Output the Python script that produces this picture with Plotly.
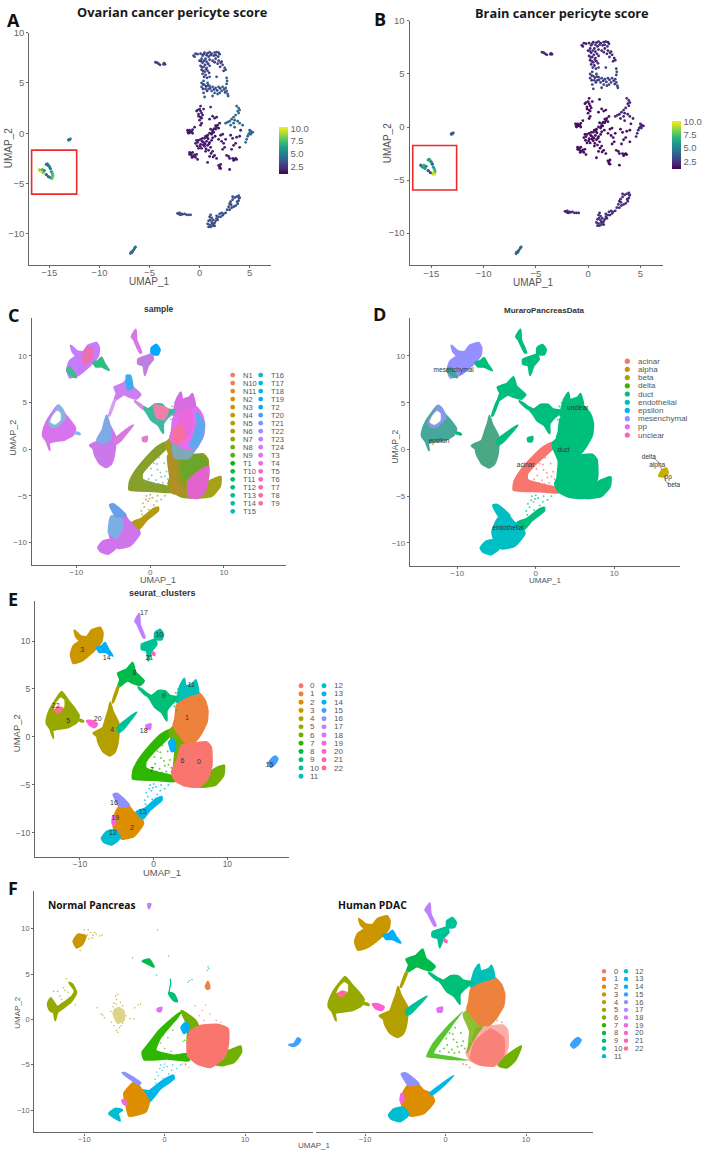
import math
import plotly.graph_objects as go

W, H = 709, 1151

# ---------- pericyte score panels: cell positions ----------
peri_cells = [(-16.0,-3.6),(-15.9,-3.7),(-15.8,-3.8),(-15.7,-3.6),(-15.6,-3.9),(-15.5,-3.7),(-15.3,-3.1),(-15.2,-3.05),
              (-15.1,-3.2),(-15.0,-3.3),(-14.9,-3.5),(-14.8,-3.8),(-14.7,-4.0),(-14.65,-4.2),(-14.7,-4.4),(-14.75,-4.5),
              (-14.9,-4.4),(-15.1,-4.3),(-15.3,-4.1)]
peri_ovarian = [9.5,8,10,7,8,6,4.5,5,4.5,5,4,6,7,7.5,8,8.5,6,4,3.5]
peri_brain = [3.5,5,6,7,6,5,6.5,6,6.5,5,3.5,6,7,7,8.5,10,9,3,2.5]
small_a = [(-13.1,-0.65),(-13.0,-0.6),(-12.9,-0.55),(-13.05,-0.7),(-12.95,-0.62)]
small_b = [(-6.9,-11.95),(-6.8,-11.85),(-6.7,-11.75),(-6.75,-11.85),(-6.65,-11.65),(-6.6,-11.6),(-6.5,-11.45),(-6.45,-11.35),(-6.4,-11.3),(-6.85,-11.8)]
small_c = [(-4.4,7.05),(-4.25,7.0),(-4.1,6.9),(-3.95,6.8),(-3.6,6.85),(-3.5,6.9),(-3.45,6.85),(-3.55,6.95)]
top_block = [(-0.6,7.7),(-0.4,7.9),(-0.5,7.6),(-0.2,7.85),(0.1,7.9),(0.3,7.7),(0.5,8.0),(0.8,7.95),(1.0,8.05),(1.2,7.9),(1.5,8.0),(1.7,8.05),
             (1.9,8.0),(2.0,7.85),(1.4,7.7),(0.9,7.6),(0.6,7.4),(0.2,7.4),(0.0,7.2),(0.3,7.0),(0.7,7.1),(1.0,7.3),(1.3,7.2),(1.6,7.4),(1.9,7.2),
             (2.1,7.0),(1.8,6.9),(2.3,6.8),(2.5,6.5),(2.6,6.3),(0.1,6.7),(0.4,6.6),(0.7,6.5),(1.0,6.7),(0.2,6.3),(0.5,6.1),(0.8,6.2),(0.3,5.9),(0.6,5.8)]
top_more = [(0.4,7.85),(0.7,7.75),(1.1,7.75),(1.6,7.75),(1.85,7.6),(0.15,7.15),(0.45,7.2),(0.85,6.9),(0.55,6.8),(0.25,6.55),(1.5,7.05),(2.05,6.6),(2.4,6.2),(2.2,7.1),
            (0.35,6.2),(0.65,6.35),(0.95,6.0),(0.45,5.6),(0.75,5.5),(0.35,4.85),(0.65,4.65),(0.85,4.75),(0.35,4.4),(0.75,4.2),(1.05,4.45),(1.45,4.35),(1.75,4.25),(2.05,4.45),(2.45,4.35),(2.55,4.05)]
top_lower = [(2.7,5.5),(2.75,5.2),(2.7,4.9),(1.0,5.6),(1.7,5.6),(0.4,5.2),(0.2,5.0),(0.5,4.8),(0.8,5.0),(1.0,4.7),(0.2,4.6),(0.6,4.4),(0.9,4.4),
             (1.3,4.6),(1.6,4.5),(1.9,4.6),(2.3,4.6),(2.6,4.5),(2.7,4.2),(2.8,3.9),(2.85,3.7),(1.2,4.2),(1.5,4.0),(1.8,3.9),(2.0,4.0),(2.2,4.2),(0.4,4.0),(0.5,3.6),(1.3,3.7)]
mid_upper = [(0.1,2.7),(0.0,2.4),(-0.2,2.3),(-0.3,2.2),(0.1,2.2),(0.2,2.0),(-0.1,1.9),(-0.1,1.7),(0.1,1.6),(0.2,1.5),(0.3,1.8),(0.4,2.4),(0.0,1.3),
             (0.2,1.0),(0.1,0.8),(1.1,2.6),(1.3,1.7),(1.0,1.4),(1.5,1.5),(1.7,1.6),(2.0,1.0)]
mid_right = [(3.7,2.7),(3.9,2.5),(4.0,2.3),(3.8,2.2),(3.9,2.0),(3.6,1.8),(3.4,1.6),(3.2,1.4),(3.0,1.2),(2.8,1.1),(3.5,1.3),(3.8,1.2),(4.0,1.0),(4.3,0.8),
             (3.4,1.0),(2.6,1.0),(3.1,0.8),(3.5,0.6),(5.0,0.3),(5.1,0.2),(5.2,0.1),(5.3,0.1),(5.0,0.0),(4.9,-0.1),(5.1,-0.1),(4.8,-0.3),(4.7,-0.6),(4.6,-0.9)]
low_dark = [(-1.2,0.3),(-1.1,0.2),(-1.0,0.3),(-0.9,0.1),(-1.1,0.0),(-0.8,0.2),(-0.7,0.35),(-0.7,0.0),(-0.5,0.6),(1.8,0.8),(1.7,0.6),(1.9,0.5),(1.6,0.4),
            (1.3,0.3),(1.1,0.4),(1.4,0.1),(1.2,-0.1),(1.0,0.0),(0.8,-0.2),(0.6,-0.3),(0.5,-0.5),(0.3,-0.5),(0.1,-0.6),(-0.1,-0.7),(-0.2,-0.9),(-0.4,-1.0),(0.1,-1.1),
            (0.4,-0.9),(0.7,-0.8),(1.0,-0.9),(1.2,-0.7),(0.8,-1.2),(0.5,-1.3),(0.2,-1.5),(-0.1,-1.5),(1.1,-1.4),(0.9,-1.7),(0.6,-1.8),(-1.0,-1.9),(-1.0,-2.1),(-0.8,-2.2),
            (-0.7,-1.9),(-0.6,-2.3),(-0.4,-2.4),(-0.3,-2.1),(-0.2,-2.6),(1.3,-1.8),(1.5,-2.2),(1.7,-2.5),(1.0,-2.3),(0.8,-2.9),(1.9,-0.6),(2.1,-0.2),(2.3,-0.1),(2.2,-0.8),
            (2.4,-1.0),(2.6,-0.6),(2.5,-1.4),(2.3,-1.6),(3.1,-0.2),(3.3,-0.5),(3.4,-1.2),(3.2,-1.6),(3.6,-1.0),(3.7,-0.4),(4.0,-1.4),(2.7,-2.2),(2.9,-2.3),(3.0,-2.5),(3.3,-2.5),
            (3.5,-2.6),(3.7,-2.6),(4.0,-0.3),(4.1,0.3),(2.1,-3.1),(2.0,-3.3),(2.1,-3.5),(1.9,-3.2),(3.0,-3.6)]
low_more = [(-0.3,-0.7),(0.25,-0.8),(0.55,-1.05),(0.85,-0.55),(1.3,-0.45),(0.95,-1.05),(0.65,-1.55),(0.35,-1.15),(-0.25,-1.25),(0.05,-1.3),(-0.85,-2.0),(-0.5,-2.15),(-0.75,-2.4),
            (1.15,-2.0),(1.35,-2.35),(1.55,-0.3),(1.45,0.45),(1.6,0.75),(-0.95,0.15),(-1.15,0.1),(2.0,-3.45),(3.6,-2.5),(3.4,-2.7),(1.25,0.05),(0.75,-0.4)]
low_arc = [(3.9,-6.2),(3.7,-6.3),(4.0,-6.4),(3.5,-6.4),(3.3,-6.6),(3.1,-6.8),(3.0,-7.0),(3.9,-6.7),(3.8,-7.0),(3.6,-7.2),(3.4,-7.3),(3.2,-7.4),(2.9,-7.3),(3.0,-7.6),
           (2.6,-7.9),(2.4,-8.0),(2.2,-7.9),(2.0,-8.0),(2.1,-8.3),(1.9,-8.3),(1.7,-8.2),(1.8,-8.6),(1.6,-8.7),(1.5,-8.9),(1.1,-8.1),(1.0,-8.3),(1.2,-8.4),(0.9,-8.7),(1.2,-8.8),
           (0.8,-9.0),(1.0,-9.1),(1.3,-9.2),(1.1,-9.3),(0.9,-9.3),(1.5,-9.2),(1.4,-9.0),(3.3,-6.3),(3.95,-6.45),(3.75,-6.8),(3.15,-7.1),(2.75,-7.6),(1.25,-9.0),(1.05,-8.6),(1.35,-8.6),(1.7,-8.45),(2.3,-8.15)]
low_worm = [(-2.2,-7.95),(-2.1,-8.0),(-2.0,-7.9),(-1.9,-8.1),(-1.8,-8.0),(-1.7,-8.05),(-1.5,-8.0),(-1.3,-8.1),(-1.1,-8.1),(-0.9,-8.1),(-2.0,-8.05)]
group_cells = [small_a,small_b,small_c,top_block,top_more,top_lower,mid_upper,mid_right,low_dark,low_more,low_arc,low_worm]
group_ovarian = [4.6,4.2,2.8,3.2,2.6,3.8,1.8,4.2,1.8,1.5,3.2,3.2]
group_brain = [3.6,4.0,2.0,1.9,2.4,2.9,1.4,2.0,1.4,1.3,2.2,2.0]

# ---------- UMAP cluster outlines ----------
c0 = [(3.8,-0.89),(4.93,-0.71),(7.2,-0.54),(7.78,-1.06),(7.87,-2.96),(7.33,-4.34),(6.16,-5.2),(4.26,-5.1),(2.9,-4.51),(2.45,-3.65),(3.26,-2.27)]
c1 = [(2.9,1.88),(3.12,3.26),(4.03,4.12),(6.06,4.64),(6.97,3.78),(7.33,2.74),(7.2,1.53),(6.29,0.15),(5.39,-0.61),(4.25,-0.54),(3.35,0.32),(2.67,1.19)]
c2 = [(-5.11,-7.79),(-4.57,-7.17),(-3.57,-7.03),(-2.76,-7.79),(-1.85,-8.13),(-1.4,-9.0),(-1.94,-9.69),(-2.76,-10.38),(-4.34,-10.62),(-5.25,-9.86),(-5.56,-8.83)]
c3 = [(-11.26,8.61),(-10.9,9.48),(-10.08,10.0),(-10.53,10.44),(-10.76,11.13),(-9.9,10.51),(-9.09,10.44),(-8.41,11.13),(-7.27,11.41),(-6.91,10.86),(-7.05,10.0),(-7.73,9.3),(-8.63,8.61),(-9.76,7.92),(-10.9,7.68)]
c4 = [(-8.2,0.4),(-6.9,0.95),(-6.5,1.9),(-6.1,2.9),(-5.9,3.6),(-5.55,2.7),(-5.1,2.0),(-4.75,1.4),(-4.75,0.2),(-4.95,-0.9),(-5.3,-1.6),(-5.95,-1.95),(-6.9,-1.5),(-7.55,-0.5),(-7.7,0.05)]
c5 = [(-14.52,1.88),(-14.06,2.91),(-13.38,3.78),(-12.48,4.71),(-11.57,3.78),(-10.67,2.91),(-10.13,2.22),(-10.44,1.53),(-11.57,1.01),(-12.93,0.84),(-13.7,0.67),(-13.61,-0.13),(-14.06,0.84),(-14.52,1.36)]
c5_tail = [(-10.13,1.85),(-9.54,1.68),(-9.54,1.58),(-10.13,1.7)]
c5_hole = [(-13.25,3.53),(-12.61,4.12),(-12.16,3.88),(-12.16,3.09),(-12.93,2.64),(-13.52,2.91)]
c6_left = [(2.13,0.67),(2.9,1.19),(3.58,-0.02),(4.71,-0.71),(4.03,-1.58),(3.35,-2.61),(2.67,-3.82),(2.81,-2.44),(2.9,-1.23),(2.22,0.15)]
c6_right = [(7.42,-3.82),(8.33,-3.3),(9.55,-2.96),(9.46,-3.99),(8.33,-5.03),(6.16,-5.2),(6.74,-4.68)]
c7 = [(-2.85,-4.34),(-2.76,-3.48),(-2.08,-2.44),(-0.5,-0.89),(1.09,0.32),(2.13,0.74),(2.13,0.08),(0.18,-1.4),(-1.08,-2.61),(-1.08,-3.23),(0.63,-3.72),(2.54,-4.06),(2.9,-4.62),(0.63,-4.51),(-2.08,-4.44)]
c8 = [(-4.88,5.16),(-4.56,6.02),(-4.88,6.64),(-3.66,7.06),(-2.84,7.75),(-2.48,6.78),(-1.3,5.85),(-1.85,5.4),(-2.84,5.61),(-3.56,5.85)]
c8_link = [(-4.93,5.16),(-5.6,3.6),(-5.5,3.6),(-4.7,5.3)]
c9 = [(-1.18,4.64),(-0.27,4.3),(0.63,4.81),(1.54,4.81),(2.22,4.3),(3.35,4.12),(2.44,3.43),(1.77,2.74),(1.77,1.7),(1.09,2.57),(0.18,3.09),(-0.5,3.95)]
c9_link = [(-2.1,5.2),(-1.18,4.7),(-1.0,4.3),(-2.0,5.05)]
c10_top = [(0.18,10.86),(0.86,11.21),(1.31,10.69),(1.09,10.17),(0.18,10.17)]
c10_low = [(-1.63,9.65),(-0.5,10.0),(0.18,10.17),(0.41,9.65),(-0.27,8.96),(-0.72,7.93),(-0.95,8.96),(-1.63,9.13)]
c11 = [(3.12,3.6),(3.58,5.33),(4.16,6.09),(4.35,5.33),(5.39,5.61),(5.7,5.95),(6.06,4.64),(4.71,4.3),(3.8,3.95)]
c11_wedge = [(-4.92,0.99),(-3.88,1.7),(-2.3,2.57),(-3.2,1.7),(-4.1,0.84),(-4.79,0.5)]
c12 = [(-7.06,-10.55),(-6.38,-9.86),(-5.25,-9.69),(-4.57,-10.38),(-4.79,-10.72),(-5.7,-11.24),(-6.74,-10.97)]
c13 = [(-2.3,-7.79),(-1.17,-7.44),(0.41,-6.41),(1.09,-6.23),(1.09,-6.58),(-0.5,-7.62),(-1.4,-8.48),(-1.85,-8.31)]
c14 = [(-7.73,9.3),(-7.05,9.48),(-6.6,9.82),(-6.14,9.13),(-5.56,8.44),(-6.6,8.85),(-7.37,8.85)]
c14_patch = [(2.08,-0.54),(2.54,-0.2),(2.9,-0.54),(2.9,-1.4),(2.45,-1.5)]
c15 = [(15.57,-2.78),(16.02,-2.26),(16.47,-2.02),(16.83,-2.26),(16.47,-2.78),(15.88,-3.13)]
c16 = [(-5.47,-5.99),(-5.02,-5.89),(-3.89,-6.58),(-3.3,-7.1),(-4.57,-7.27),(-5.02,-6.75)]
c17 = [(-2.53,12.07),(-1.95,12.83),(-1.86,11.73),(-1.18,10.35),(-1.4,10.35),(-2.22,11.73)]
c18 = [(-1.03,1.19),(-0.4,1.36),(-0.49,0.84),(-0.94,0.84)]
c19 = [(-5.5,-8.2),(-5.2,-8.4),(-5.3,-9.2),(-5.6,-9.0)]
c20 = [(-9.08,1.7),(-8.41,1.7),(-7.64,1.36),(-7.95,1.01),(-8.63,1.19)]
c21 = [(-0.15,8.85),(0.1,8.75),(0.15,8.5),(-0.1,8.6)]
c22 = [(-13.4,2.8),(-12.9,3.1),(-12.4,3.0),(-12.9,2.5)]

# extra colour patches of the "sample" panel
s_pink_c3 = [(-9.26,9.8),(-8.49,10.87),(-7.9,10.9),(-7.9,9.63),(-8.8,9.09)]
s_green_c3 = [(-11.3,8.4),(-10.7,7.9),(-10.0,7.7),(-10.9,8.8)]
s_teal_c5 = [(-13.7,2.9),(-12.9,4.0),(-12.4,4.7),(-11.9,4.3),(-11.5,3.4),(-12.0,2.9),(-12.7,2.4),(-13.4,2.4)]
s_blue_c4 = [(-7.2,1.0),(-6.5,2.0),(-5.9,3.6),(-5.5,2.5),(-5.4,1.0),(-6.5,0.6)]
s_blue_c1 = [(6.3,3.9),(7.29,2.75),(7.1,1.36),(6.1,0.1),(5.4,0.3),(6.0,1.6),(6.4,2.8)]
s_pink_c1 = [(3.16,1.99),(4.29,2.7),(4.51,0.92),(3.39,0.57)]
s_mag_c1 = [(4.0,3.8),(5.4,4.5),(5.6,2.5),(4.8,1.2),(4.2,2.0)]
s_teal_c1 = [(3.1,0.5),(4.5,-0.1),(6.0,-0.1),(5.2,-1.0),(3.3,-0.9)]
s_green_c0 = [(4.6,-0.9),(6.9,-0.7),(7.7,-1.5),(6.5,-2.4),(4.8,-3.2),(4.2,-2.0)]
s_pink_c0 = [(5.19,-3.34),(6.77,-2.27),(7.9,-1.92),(7.5,-4.4),(6.5,-5.25),(5.2,-5.12)]
s_gold_c0 = [(2.4,-0.7),(3.3,-0.6),(3.6,-3.2),(4.8,-4.7),(3.0,-4.7),(2.7,-3.0)]
s_blue_c2 = [(-5.3,-7.2),(-4.1,-7.2),(-3.7,-8.2),(-4.6,-9.5),(-5.6,-9.0)]
s_blue_c8 = [(-3.2,7.9),(-2.7,7.9),(-2.4,6.6),(-3.0,6.4)]
s_pink_c9 = [(0.6,4.7),(2.4,4.3),(1.9,3.2),(0.9,3.4)]

# cell-level specks
tri_interior = [(0.5,-1.5),(1.0,-2.2),(0.2,-2.8),(1.5,-3.0),(0.8,-3.3),(1.9,-1.5),(1.2,-0.9),(-0.2,-3.2),(2.2,-2.4),(1.7,-3.6),(-0.7,-3.5),(0.4,-3.6),(2.4,-3.2),(1.4,-2.5),(0.9,-1.6),(2.0,-2.9),(0.1,-2.1),(1.1,-3.7)]
bridge = [(-0.5,-5.0),(-0.3,-5.6),(0.3,-5.2),(0.9,-5.6),(-0.8,-6.2),(-0.6,-5.4),(-1.1,-7.0),(-1.2,-6.6),(0.5,-6.0),(1.5,-5.4),(0.0,-4.9),(-0.2,-6.5),(1.0,-5.0),(-1.0,-5.8),(2.0,-5.0),(-0.1,-5.3)]
trail9 = [(0.7,4.4),(0.75,4.0),(0.65,3.6),(0.8,3.2),(3.0,4.6),(3.3,5.0),(3.4,4.6),(2.7,3.6),(2.8,3.2),(3.1,2.8)]
trail0 = [(2.6,-5.0),(2.2,-4.9),(3.0,-5.3),(4.3,0.4),(4.7,1.0),(3.8,1.5),(5.6,0.6),(5.1,1.6),(6.4,-0.1),(2.9,0.2),(4.9,-0.1),(7.0,-0.3)]

# ---------- legends and labels ----------
sample_levels = ["N1","N10","N11","N2","N3","N4","N5","N6","N7","N8","N9","T1","T10","T11","T12","T13","T14","T15",
                 "T16","T17","T18","T19","T2","T20","T21","T22","T23","T24","T3","T4","T5","T6","T7","T8","T9"]
muraro_levels = ["acinar","alpha","beta","delta","duct","endothelial","epsilon","mesenchymal","pp","unclear"]
cluster_levels = [str(i) for i in range(23)]
cluster_label_text = ["3","14","17","10","21","8","9","11","1","22","5","20","4","18","6","0","7","15","16","13","19","2","12"]
cluster_label_x = [-9.68,-6.38,-1.31,0.77,-0.59,-2.62,1.4,5.1,4.52,-13.3,-11.58,-7.6,-5.61,-1.36,3.89,6.15,-0.23,15.7,-5.38,-1.49,-5.2,-2.94,-5.52]
cluster_label_y = [9.07,8.2,12.94,10.62,8.2,6.65,4.2,5.37,1.99,3.16,1.64,1.81,0.74,0.64,-2.5,-2.64,-3.44,-2.99,-6.89,-7.89,-8.51,-9.52,-10.03]
muraro_label_text = ["mesenchymal","epsilon","unclear","duct","acinar","endothelial","delta","alpha","pp","beta"]
muraro_label_x = [-10.47,-12.34,5.36,3.57,-1.28,-3.53,14.43,15.49,16.89,17.62]
muraro_label_y = [8.42,0.89,4.37,-0.11,-1.74,-8.45,-0.82,-1.71,-2.98,-3.84]
muraro_leader_1 = [(15.0,-0.9),(15.6,-1.3),(16.1,-2.2)]
muraro_leader_2 = [(16.4,-2.9),(16.6,-3.4),(17.0,-3.8)]
muraro_beta_blob = [(15.7,-2.84),(16.13,-2.2),(16.68,-2.02),(16.85,-2.56),(16.34,-2.91)]

# ---------- "Normal Pancreas" outlines ----------
n3 = [(-11.35,8.65),(-10.77,9.38),(-9.81,9.2),(-10.23,8.28),(-10.93,7.92)]
n3_trail = [(-9.6,9.3),(-9.2,9.6),(-8.9,9.3),(-8.5,9.4),(-8.1,9.2),(-7.8,9.3),(-9.4,8.9),(-9.0,9.0),(-10.0,9.9),(-9.5,9.9),(-10.5,7.6),(-8.7,9.6)]
n5 = [(-14.49,1.88),(-14.16,2.36),(-13.33,1.41),(-12.5,1.88),(-11.47,2.61),(-11.18,3.16),(-11.88,4.08),(-11.47,3.89),(-10.97,2.98),(-11.47,2.14),(-12.5,1.33),(-13.33,0.79),(-13.6,-0.1),(-13.8,0.8),(-14.16,0.9),(-14.45,1.33)]
n4 = [(-6.29,1.15),(-5.67,1.41),(-4.97,0.97),(-4.97,-0.13),(-5.88,-0.49),(-6.5,0.6)]
n4_trail = [(-6.1,2.6),(-6.0,2.2),(-5.8,2.75),(-6.3,1.8),(-5.5,1.9),(-7.7,0.5),(-7.5,0.2),(-7.9,0.6),(-5.6,-0.9),(-5.8,-1.4),(-6.0,-1.2),(-5.4,-0.7),(-4.3,0.1),(-3.8,0.05),(-3.3,1.6),(-3.0,1.7),(-3.7,1.3),(-6.6,-0.3),(-8.4,1.3),(-6.4,1.4),(-6.7,0.9),(-6.0,1.7),(-5.2,1.5),(-4.8,0.4),(-6.3,-0.7),(-5.2,-0.4)]
n5_trail = [(-13.0,2.6),(-12.6,3.5),(-12.4,3.2),(-12.0,3.0),(-12.8,2.2),(-13.3,3.1),(-11.7,1.8),(-11.1,1.6),(-13.8,3.1),(-12.2,4.5)]
n8 = [(-2.77,6.45),(-1.95,6.64),(-1.33,5.8),(-1.95,6.09)]
n9 = [(0.54,2.98),(1.16,2.8),(1.57,1.99),(1.16,2.07),(0.66,2.61)]
n9_line = [(0.7,4.5),(0.75,4.0),(0.55,3.0)]
n1 = [(5.09,3.6),(5.38,4.19),(5.59,3.46),(5.3,3.35)]
n11_specks = [(5.4,5.8),(5.5,5.6),(5.3,5.4),(3.1,4.3),(3.4,4.4),(2.9,4.1),(0.5,7.0),(-0.9,9.9),(-4.0,6.8),(-1.0,4.9)]
n0 = [(2.82,-2.69),(3.23,-1.22),(4.47,-0.68),(6.75,-0.57),(7.87,-1.04),(7.87,-2.87),(7.4,-4.15),(5.71,-5.25),(4.06,-4.88),(2.9,-4.0)]
n6_left = [(2.07,0.97),(2.82,0.6),(3.85,-0.13),(4.26,-0.86),(3.23,-2.33),(2.82,-2.69),(2.9,-0.86)]
n6_right = [(6.96,-3.42),(7.99,-3.42),(9.44,-2.94),(9.52,-3.6),(8.61,-4.7),(7.16,-5.06),(6.13,-4.88)]
n7 = [(-2.77,-3.6),(-2.15,-2.87),(-0.7,-1.22),(1.37,0.42),(1.99,0.79),(1.57,0.24),(-0.5,-1.96),(-1.12,-3.42),(1.16,-3.96),(3.02,-3.78),(3.02,-4.52),(0.33,-4.33),(-2.56,-4.4)]
n14_patch = [(2.07,-0.86),(2.48,-0.42),(3.02,-0.49),(2.9,-1.22),(2.4,-1.52)]
n15 = [(15.45,-2.8),(16.06,-2.69),(16.56,-2.03),(16.89,-2.25),(16.56,-2.69),(15.98,-2.94)]
n2 = [(-5.05,-8.17),(-3.73,-6.89),(-2.77,-7.81),(-1.95,-9.09),(-2.36,-10.18),(-4.43,-10.62),(-4.72,-9.64)]
n13 = [(-2.77,-7.81),(-1.95,-7.88),(-0.5,-6.89),(1.08,-6.16),(1.16,-6.53),(-0.5,-7.62),(-1.95,-9.09),(-2.57,-8.54)]
n16 = [(-5.26,-5.9),(-4.97,-5.87),(-2.98,-7.0),(-3.19,-7.15)]
n12 = [(-6.92,-10.37),(-6.09,-9.82),(-5.26,-9.99),(-5.8,-10.37),(-5.55,-11.17),(-6.29,-10.8)]
n17 = [(-2.07,12.74),(-1.74,12.74),(-1.95,12.23)]
n18 = [(-0.91,1.15),(-0.37,1.33),(-0.5,0.9),(-0.83,0.9)]
n19 = [(-5.3,-8.9),(-4.9,-8.9),(-4.8,-9.4),(-5.1,-9.3)]
n7_specks = [(-0.5,-2.6),(0.0,-3.2),(0.8,-3.5),(2.3,-2.4),(2.5,-2.3),(0.4,-2.0),(-0.2,-1.8),(1.0,-1.2),(2.6,-4.9)]

# ---------- "Human PDAC" outlines that differ ----------
p0_dense = [(3.6,-2.4),(5.6,-1.0),(7.3,-2.0),(7.3,-4.0),(6.0,-5.2),(4.3,-5.1),(3.0,-4.4)]
p6_right = [(6.58,-5.06),(7.62,-3.97),(9.4,-2.94),(8.65,-4.52),(7.62,-5.32)]
p7 = [(-2.4,-4.1),(-1.6,-2.6),(0.3,-0.6),(2.2,0.95),(0.7,-0.9),(-0.9,-2.9),(-1.4,-3.7),(1.0,-4.1),(3.0,-4.5),(0.8,-4.5),(-1.0,-4.3)]
p13 = [(-1.9,-8.1),(-0.6,-7.2),(1.0,-6.2),(-0.5,-7.5),(-1.7,-8.3)]

PX = dict(
    A=(29.3,270.7,26.7,260.0,(-17.0,7.1),(-13.05,10.0)),
    B=(409.7,663.3,15.0,260.7,(-17.07,7.2),(-13.04,10.0)),
    C=(31.7,286.0,313.3,561.7,(-16.05,18.4),(-12.4,14.1)),
    D=(410.0,680.0,313.3,562.7,(-16.04,18.4),(-12.45,14.1)),
    E=(35.0,289.3,598.3,855.0,(-16.1,18.4),(-12.46,14.15)),
    F=(34.3,312.7,890.0,1132.3,(-16.2,18.4),(-12.45,14.13)),
    G=(316.0,593.3,890.0,1132.3,(-16.09,18.36),(-12.45,14.13)),
)
AX = {k: i + 1 for i, k in enumerate(PX)}


def hue(n, i, c=100.0, l=65.0):
    h = math.radians(15 + 360.0 * i / n)
    u, v = c * math.cos(h), c * math.sin(h)
    Y = ((l + 16) / 116) ** 3
    ud, vd = u / (13 * l) + 0.19784, v / (13 * l) + 0.46834
    X = 9 * Y * ud / (4 * vd)
    Z = -X / 3 - 5 * Y + 3 * Y / vd
    rgb = [3.2406 * X - 1.5372 * Y - 0.4986 * Z, -0.9689 * X + 1.8758 * Y + 0.0415 * Z, 0.0557 * X - 0.204 * Y + 1.057 * Z]
    out = []
    for a in rgb:
        a = max(0.0, min(1.0, a))
        a = 12.92 * a if a <= 0.0031308 else 1.055 * a ** (1 / 2.4) - 0.055
        out.append(round(a * 255))
    return "#%02x%02x%02x" % tuple(out)


P23 = [hue(23, i) for i in range(23)]
P10 = [hue(10, i) for i in range(10)]
P35 = [hue(35, i) for i in range(35)]

fig = go.Figure()
shapes, notes, layout = [], [], {}
GREY = "#666666"


def xp(x):
    return x / W


def yp(y):
    return 1 - y / H


def rgba(col, op):
    return "rgba(%d,%d,%d,%.2f)" % (int(col[1:3], 16), int(col[3:5], 16), int(col[5:7], 16), op)


def axes(key):
    return ("x%d" % AX[key], "y%d" % AX[key])


def poly(key, pts, col, op=1.0):
    xa, ya = axes(key)
    width = 0 if op != 1.0 else (0.3 if col == "#FFFFFF" else 2.0)
    fig.add_trace(go.Scatter(x=[p[0] for p in pts] + [pts[0][0]], y=[p[1] for p in pts] + [pts[0][1]], mode="lines", fill="toself",
                             fillcolor=rgba(col, op), line=dict(color=rgba(col, op), width=width, shape="spline", smoothing=0.5),
                             xaxis=xa, yaxis=ya, showlegend=False, hoverinfo="skip"))


def dots(key, pts, col, size=1.6, op=0.7):
    xa, ya = axes(key)
    fig.add_trace(go.Scatter(x=[p[0] for p in pts], y=[p[1] for p in pts], mode="markers",
                             marker=dict(color=col, size=size, opacity=op, line=dict(width=0)),
                             xaxis=xa, yaxis=ya, showlegend=False, hoverinfo="skip"))


def note(x, y, s, size=9, color="#444444", bold=False, anchor="center", font="Liberation Sans", angle=0):
    notes.append(dict(x=xp(x), y=yp(y), xref="paper", yref="paper", text="<b>%s</b>" % s if bold else s, showarrow=False,
                      font=dict(size=size, color=color, family=font), xanchor=anchor, yanchor="middle", textangle=angle))


def legend(levels, colors, rows, x_marker, x_text, x_marker2, x_text2, y0, dy, size=7.5, r=2.4):
    for i, (lab, col) in enumerate(zip(levels, colors)):
        first = i < rows
        row = i if first else i - rows
        mx, tx = (x_marker, x_text) if first else (x_marker2, x_text2)
        yy = y0 + row * dy
        shapes.append(dict(type="circle", xref="paper", yref="paper", x0=xp(mx - r), x1=xp(mx + r), y0=yp(yy + r), y1=yp(yy - r),
                           fillcolor=col, line=dict(width=0)))
        note(tx, yy, lab, size=size, color="#555555", anchor="left")


def panel(key, xticks, yticks, tick_size=8, show_y=True, lw=1.3):
    l, r, t, b, xr, yr = PX[key]
    i = AX[key]
    sfx = "" if i == 1 else str(i)
    layout["xaxis" + sfx] = dict(domain=[xp(l), xp(r)], range=list(xr), anchor="y" + sfx, tickvals=xticks, showgrid=False, zeroline=False,
                                 showline=True, linecolor=GREY, linewidth=lw, ticks="outside", ticklen=2, tickcolor=GREY, tickwidth=1, ticklabelstandoff=-3,
                                 tickfont=dict(size=tick_size, color="#666666", family="Liberation Sans"))
    layout["yaxis" + sfx] = dict(domain=[yp(b), yp(t)], range=list(yr), anchor="x" + sfx, tickvals=yticks, showgrid=False, zeroline=False,
                                 showline=show_y, linecolor=GREY, linewidth=lw, ticks="outside" if show_y else "", ticklen=2, tickcolor=GREY, tickwidth=1,
                                 showticklabels=show_y, tickfont=dict(size=tick_size, color="#666666", family="Liberation Sans"))


# ---------- A and B ----------
for key, scores, peri, cax in (("A", group_ovarian, peri_ovarian, "coloraxis"), ("B", group_brain, peri_brain, "coloraxis2")):
    xa, ya = axes(key)
    for cells, score in zip(group_cells, scores):
        fig.add_trace(go.Scatter(x=[p[0] for p in cells], y=[p[1] for p in cells], mode="markers",
                                 marker=dict(color=[score] * len(cells), coloraxis=cax, size=2.8, line=dict(width=0)),
                                 xaxis=xa, yaxis=ya, showlegend=False, hoverinfo="skip"))
    fig.add_trace(go.Scatter(x=[p[0] for p in peri_cells], y=[p[1] for p in peri_cells], mode="markers",
                             marker=dict(color=peri, coloraxis=cax, size=3.2, line=dict(width=0)),
                             xaxis=xa, yaxis=ya, showlegend=False, hoverinfo="skip"))
panel("A", [-15, -10, -5, 0, 5], [-10, -5, 0, 5, 10], tick_size=9.5)
panel("B", [-15, -10, -5, 0, 5], [-10, -5, 0, 5, 10], tick_size=9.5)
shapes.append(dict(type="rect", xref="x", yref="y", x0=-16.77, x1=-12.27, y0=-6.05, y1=-1.68, line=dict(color="#EE2A2A", width=1.6)))
shapes.append(dict(type="rect", xref="x2", yref="y2", x0=-16.78, x1=-12.58, y0=-5.94, y1=-1.75, line=dict(color="#EE2A2A", width=1.6)))


def cbar(x_left, y_top, length):
    return dict(x=xp(x_left), xanchor="left", y=yp(y_top), yanchor="top", len=length / H, lenmode="fraction", thickness=9.4, thicknessmode="pixels",
                outlinewidth=0, tickvals=[2.5, 5, 7.5, 10], ticktext=["2.5", "5.0", "7.5", "10.0"], ticks="", xpad=0, ypad=0,
                tickfont=dict(size=9.5, color="#666666", family="Liberation Sans"))


layout["coloraxis"] = dict(colorscale="Viridis", cmin=1.0, cmax=10.2, colorbar=cbar(278.7, 122, 47))
layout["coloraxis2"] = dict(colorscale="Viridis", cmin=1.0, cmax=10.0, colorbar=cbar(672.3, 116, 48))

# ---------- C: sample ----------
s_pur, s_mag, s_pink, s_olive = "#C77CFF", "#DF70EE", "#F8709E", "#8F9D1E"
for pts, col in ((c7, "#86A02A"), (c6_left, "#A89A20"), (c0, s_olive), (c6_right, "#A5A21A"), (s_gold_c0, "#B08F25"), (s_green_c0, "#6BA52A"), (s_pink_c0, "#E064CC"),
                 (c1, s_mag), (s_blue_c1, "#5FA8EE"), (s_mag_c1, "#EA68DC"), (s_pink_c1, s_pink), (s_teal_c1, "#7FA8B8"), (c11, "#D96CE0"),
                 (c3, s_pur), (s_green_c3, "#3BBE8C"), (s_pink_c3, "#EC70B0"), (c14, "#2FBE80"),
                 (c5, "#D873EE"), (c5_tail, "#87B4E0"), (s_teal_c5, "#87B4E0"), (c5_hole, "#FFFFFF"), (c4, "#CB78EA"), (s_blue_c4, "#7FA9E8"), (c11_wedge, "#D878E0"),
                 (c8, "#CC7FF0"), (c8_link, "#D8A0EE"), (s_blue_c8, "#38AEF0"), (c9, "#3FB8A0"), (s_pink_c9, "#F080A8"), (c9_link, "#D090E0"),
                 (c10_top, "#00A9FF"), (c10_low, "#BE7FE0"), (c17, "#D878EC"), (c18, "#DF80C8"),
                 (c2, "#CF74EA"), (s_blue_c2, "#7CB0E4"), (c16, "#6A9FE8"), (c12, "#D074EE"), (c13, "#B49A10")):
    poly("C", pts, col)
dots("C", tri_interior, "#60B0C8", size=2)
dots("C", bridge, "#B89A20", size=2)
dots("C", trail9, "#A090E0", size=2)
panel("C", [-10, 0, 10], [-10, -5, 0, 5, 10])
legend(sample_levels, P35, 18, 232.7, 240.7, 260.7, 268.7, 371, 8.06)

# ---------- D: Muraro ----------
duct, endo, mes, acinar = P10[4], P10[5], P10[7], P10[0]
for pts, col in ((c7, acinar), (c6_left, duct), (c0, duct), (c6_right, duct), (c1, duct), (c11, duct),
                 (c3, mes), (s_green_c3, "#3FA890"), (c14, duct), (c5, "#45A89A"), (c5_tail, duct), (s_teal_c5, "#8A96E8"), (c5_hole, "#FFFFFF"),
                 (c4, "#4CA785"), (c11_wedge, duct), (c8, duct), (c8_link, duct), (c9, duct), (c9_link, duct), (c10_top, duct), (c10_low, duct), (c17, duct), (c18, duct),
                 (c2, endo), (c16, endo), (c12, endo), (c13, duct), (muraro_beta_blob, "#C0B000")):
    poly("D", pts, col)
dots("D", tri_interior, acinar, size=2)
dots("D", bridge, duct, size=2)
dots("D", trail9, duct, size=2)
for seg in (muraro_leader_1, muraro_leader_2):
    fig.add_trace(go.Scatter(x=[p[0] for p in seg], y=[p[1] for p in seg], mode="lines", line=dict(color="#555555", width=0.6),
                             xaxis="x4", yaxis="y4", showlegend=False, hoverinfo="skip"))
fig.add_trace(go.Scatter(x=muraro_label_x, y=muraro_label_y, text=muraro_label_text, mode="text", textfont=dict(size=6.5, color="#333333", family="Liberation Sans"),
                         xaxis="x4", yaxis="y4", showlegend=False, hoverinfo="skip"))
panel("D", [-10, 0, 10], [-10, -5, 0, 5, 10])
legend(muraro_levels, P10, 10, 627.3, 635.7, 0, 0, 357, 8.26, size=8, r=2.6)

# ---------- E: clusters ----------
for pts, i in ((c7, 7), (c6_left, 6), (c6_right, 6), (c0, 0), (c1, 1), (c11, 11), (c14_patch, 14), (c3, 3), (c14, 14), (c5, 5), (c5_tail, 5)):
    poly("E", pts, P23[i])
poly("E", c5_hole, "#FFFFFF")
for pts, i in ((c22, 22), (c4, 4), (c11_wedge, 10), (c8, 8), (c8_link, 4), (c9, 9), (c9_link, 9), (c10_top, 10), (c10_low, 10), (c17, 17), (c18, 18), (c20, 20), (c21, 21),
               (c15, 15), (c2, 2), (c16, 16), (c12, 12), (c13, 13), (c19, 19)):
    poly("E", pts, P23[i])
dots("E", tri_interior, P23[7], size=2)
dots("E", bridge, P23[13], size=2)
dots("E", trail9, P23[9], size=2)
fig.add_trace(go.Scatter(x=cluster_label_x, y=cluster_label_y, text=cluster_label_text, mode="text", textfont=dict(size=7, color="#333333", family="Liberation Sans"),
                         xaxis="x5", yaxis="y5", showlegend=False, hoverinfo="skip"))
panel("E", [-10, 0, 10], [-10, -5, 0, 5, 10], tick_size=8.5)
legend(cluster_levels, P23, 12, 301, 308.3, 324, 331.7, 683.3, 8.27, size=8, r=2.5)

# ---------- F: normal pancreas ----------
for pts, i, op in ((n3, 3, 1.0), (n5, 5, 1.0), (n4, 4, 0.45), (n8, 8, 1.0), (n9, 9, 1.0), (n1, 1, 1.0), (n7, 7, 1.0), (n6_left, 6, 1.0), (n6_right, 6, 1.0), (n0, 0, 1.0), (n14_patch, 14, 1.0),
                   (n15, 15, 1.0), (n13, 13, 1.0), (n2, 2, 1.0), (n16, 16, 1.0), (n12, 12, 1.0), (n17, 17, 1.0), (n18, 18, 1.0), (n19, 19, 1.0)):
    poly("F", pts, P23[i], op)
dots("F", n3_trail, P23[3])
dots("F", n4_trail, P23[4])
dots("F", n5_trail, P23[5])
dots("F", n11_specks, P23[10])
dots("F", n7_specks, P23[7])
dots("F", bridge, P23[13])
dots("F", trail0, P23[0])
xa, ya = axes("F")
fig.add_trace(go.Scatter(x=[p[0] for p in n9_line], y=[p[1] for p in n9_line], mode="lines", line=dict(color=P23[9], width=1.2),
                         xaxis=xa, yaxis=ya, showlegend=False, hoverinfo="skip"))
panel("F", [-10, 0, 10], [-10, -5, 0, 5, 10], tick_size=7.5)

# ---------- F: human PDAC ----------
poly("G", p7, P23[7], 0.8)
poly("G", c0, P23[0], 0.6)
poly("G", p0_dense, P23[0], 0.8)
poly("G", c6_left, P23[6], 0.8)
poly("G", p6_right, P23[6])
for pts, i in ((c1, 1), (c11, 11), (c3, 3), (c14, 14), (c5, 5), (c5_tail, 5)):
    poly("G", pts, P23[i])
poly("G", c5_hole, "#FFFFFF")
for pts, i in ((c22, 22), (c4, 4), (c11_wedge, 10), (c8, 8), (c8_link, 4), (c9, 9), (c9_link, 9), (c10_top, 10), (c10_low, 10), (c17, 17), (c18, 18), (c20, 20), (c21, 21),
               (c15, 15), (c2, 2), (c16, 16), (c12, 12), (p13, 13), (c19, 19)):
    poly("G", pts, P23[i])
dots("G", tri_interior, P23[7], size=2)
dots("G", trail0, P23[0], size=2)
panel("G", [-10, 0, 10], [], show_y=False, tick_size=7.5)
legend(cluster_levels, P23, 12, 604, 611.7, 626, 633.3, 970.3, 7.76, size=7.5, r=2.2)

# ---------- text ----------
HEAD = "Open Sans"
for x, y, s in ((13, 14, "A"), (380, 13, "B"), (13, 310.7, "C"), (379.7, 310, "D"), (13, 595.7, "E"), (13, 887, "F")):
    note(x, y, s, size=18, color="#111111", bold=True, font=HEAD)
note(172.7, 6, "Ovarian cancer pericyte score", size=12.8, color="#1a1a1a", bold=True, font=HEAD)
note(562, 6.7, "Brain cancer pericyte score", size=12.8, color="#1a1a1a", bold=True, font=HEAD)
note(158.7, 305, "sample", size=8.5, color="#333333", bold=True)
note(544.7, 305.7, "MuraroPancreasData", size=8, color="#333333", bold=True)
note(162, 590, "seurat_clusters", size=9, color="#333333", bold=True)
note(91.7, 903.7, "Normal Pancreas", size=10.2, color="#111111", bold=True, font=HEAD)
note(373, 904, "Human PDAC", size=10.4, color="#111111", bold=True, font=HEAD)
for x, y, size in ((149, 277, 10), (533, 278, 10), (158, 577, 9), (545, 578, 8), (162, 871, 9.5), (314, 1145, 8)):
    note(x, y, "UMAP_1", size=size, color="#555555")
for x, y, size in ((8, 143, 10), (387, 138, 10), (13, 434, 9), (395, 443, 8.5), (16, 731, 9.5), (18, 1012, 8)):
    note(x, y, "UMAP_2", size=size, color="#555555", angle=-90)

fig.update_layout(width=W, height=H, margin=dict(l=0, r=0, t=0, b=0), autosize=False, paper_bgcolor="white", plot_bgcolor="white",
                  shapes=shapes, annotations=notes, showlegend=False, **layout)
fig.write_html("out.html", config=dict(displayModeBar=False),
               post_script="document.body.style.margin='0';document.documentElement.style.overflow='hidden';")
